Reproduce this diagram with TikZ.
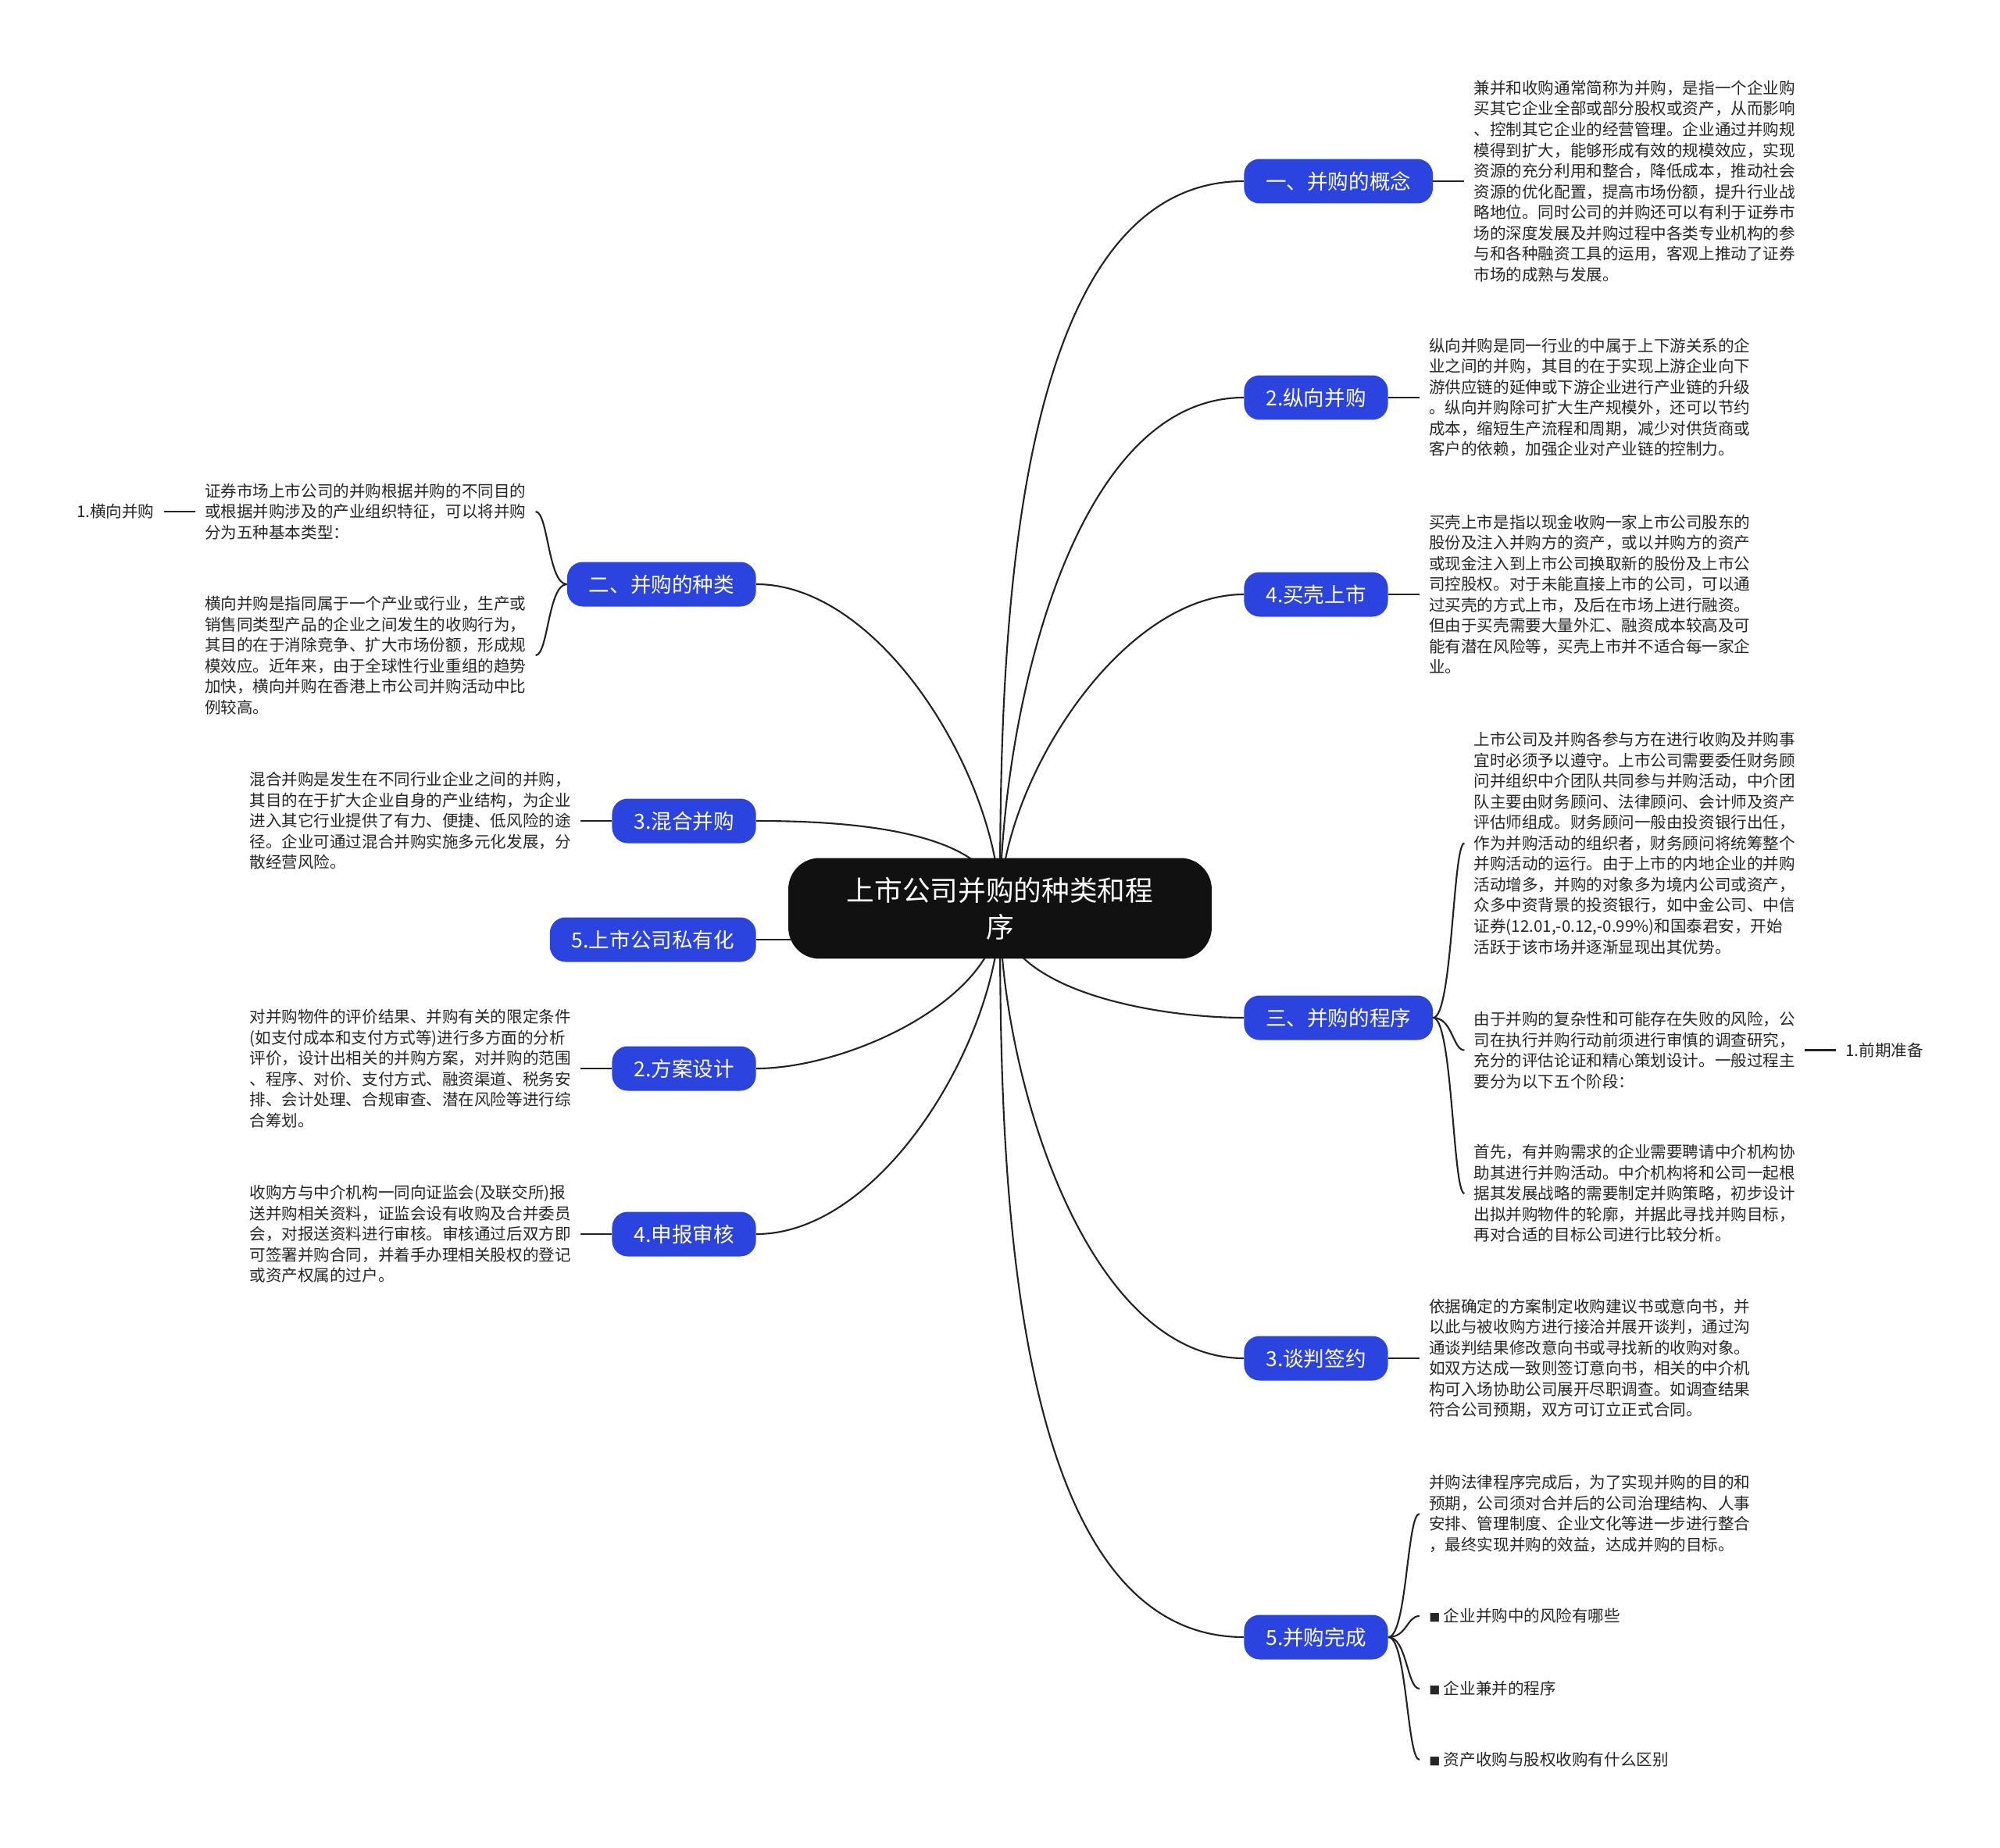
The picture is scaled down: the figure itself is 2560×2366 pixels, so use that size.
\documentclass[tikz,border=0pt]{standalone}
\usepackage{fontspec}
\setmainfont{Noto Sans CJK SC}
\usetikzlibrary{positioning, backgrounds}
\definecolor{rootblack}{HTML}{111111}
\definecolor{branchblue}{HTML}{2B43DF}
\definecolor{linkgray}{HTML}{222222}
\tikzset{
  % central topic
  root/.style={
    rectangle, rounded corners=0.8cm, fill=rootblack, text=white,
    minimum width=10.84cm, minimum height=2.58cm, align=center,
    font=\fontsize{20.3}{26.7}\selectfont
  },
  % main branches
  branch/.style={
    rectangle, rounded corners=0.4cm, fill=branchblue, text=white,
    minimum height=1.14cm, inner xsep=0.56cm,
    font=\fontsize{15.1}{18}\selectfont
  },
  branchR/.style={branch, anchor=west},
  branchL/.style={branch, anchor=east},
  % detail texts
  leaf/.style={
    align=left, inner xsep=0.24cm, inner ysep=0pt, text=black!85,
    font=\fontsize{11.7}{15.1}\selectfont
  },
  % connectors
  link/.style={draw=linkgray, line width=1.2pt},
  curvelink/.style={link, looseness=0.8},
}

\begin{document}
\begin{tikzpicture}[x=0.02cm, y=-0.02cm, node distance=0.8cm]
  \useasboundingbox (0,0) rectangle (2560,2366);

  % central topic
  \node[root] (root) at (1280,1163) {上市公司并购的种类和程\\序};

  % right branches
  \node[branchR] (concept) at (1592,232) {一、并购的概念};
  \node[branchR] (vertical) at (1592,509) {2.纵向并购};
  \node[branchR] (shell) at (1592,761) {4.买壳上市};
  \node[branchR] (procedure) at (1592,1303) {三、并购的程序};
  \node[branchR] (negotiate) at (1592,1739) {3.谈判签约};
  \node[branchR] (complete) at (1592,2096) {5.并购完成};

  % left branches
  \node[branchL] (types) at (968,748) {二、并购的种类};
  \node[branchL] (mixed) at (968,1051) {3.混合并购};
  \node[branchL] (private) at (968,1203) {5.上市公司私有化};
  \node[branchL] (plan) at (968,1368) {2.方案设计};
  \node[branchL] (review) at (968,1580) {4.申报审核};

  % right details
  \node[leaf, right=of concept] (conceptTxt) {兼并和收购通常简称为并购，是指一个企业购\\买其它企业全部或部分股权或资产，从而影响\\、控制其它企业的经营管理。企业通过并购规\\模得到扩大，能够形成有效的规模效应，实现\\资源的充分利用和整合，降低成本，推动社会\\资源的优化配置，提高市场份额，提升行业战\\略地位。同时公司的并购还可以有利于证券市\\场的深度发展及并购过程中各类专业机构的参\\与和各种融资工具的运用，客观上推动了证券\\市场的成熟与发展。};
  \node[leaf, right=of vertical] (verticalTxt) {纵向并购是同一行业的中属于上下游关系的企\\业之间的并购，其目的在于实现上游企业向下\\游供应链的延伸或下游企业进行产业链的升级\\。纵向并购除可扩大生产规模外，还可以节约\\成本，缩短生产流程和周期，减少对供货商或\\客户的依赖，加强企业对产业链的控制力。};
  \node[leaf, right=of shell] (shellTxt) {买壳上市是指以现金收购一家上市公司股东的\\股份及注入并购方的资产，或以并购方的资产\\或现金注入到上市公司换取新的股份及上市公\\司控股权。对于未能直接上市的公司，可以通\\过买壳的方式上市，及后在市场上进行融资。\\但由于买壳需要大量外汇、融资成本较高及可\\能有潜在风险等，买壳上市并不适合每一家企\\业。};
  \node[leaf, right=of procedure, yshift=4.47cm] (procA) {上市公司及并购各参与方在进行收购及并购事\\宜时必须予以遵守。上市公司需要委任财务顾\\问并组织中介团队共同参与并购活动，中介团\\队主要由财务顾问、法律顾问、会计师及资产\\评估师组成。财务顾问一般由投资银行出任，\\作为并购活动的组织者，财务顾问将统筹整个\\并购活动的运行。由于上市的内地企业的并购\\活动增多，并购的对象多为境内公司或资产，\\众多中资背景的投资银行，如中金公司、中信\\证券(12.01,-0.12,-0.99\%)和国泰君安，开始\\活跃于该市场并逐渐显现出其优势。};
  \node[leaf, right=of procedure, yshift=-0.83cm] (procB) {由于并购的复杂性和可能存在失败的风险，公\\司在执行并购行动前须进行审慎的调查研究，\\充分的评估论证和精心策划设计。一般过程主\\要分为以下五个阶段：};
  \node[leaf, right=of procedure, yshift=-4.5cm] (procC) {首先，有并购需求的企业需要聘请中介机构协\\助其进行并购活动。中介机构将和公司一起根\\据其发展战略的需要制定并购策略，初步设计\\出拟并购物件的轮廓，并据此寻找并购目标，\\再对合适的目标公司进行比较分析。};
  \node[leaf, right=of procB] (prep) {1.前期准备};
  \node[leaf, right=of negotiate] (negotiateTxt) {依据确定的方案制定收购建议书或意向书，并\\以此与被收购方进行接洽并展开谈判，通过沟\\通谈判结果修改意向书或寻找新的收购对象。\\如双方达成一致则签订意向书，相关的中介机\\构可入场协助公司展开尽职调查。如调查结果\\符合公司预期，双方可订立正式合同。};
  \node[leaf, right=of complete, yshift=3.16cm] (doneA) {并购法律程序完成后，为了实现并购的目的和\\预期，公司须对合并后的公司治理结构、人事\\安排、管理制度、企业文化等进一步进行整合\\，最终实现并购的效益，达成并购的目标。};
  \node[leaf, right=of complete, yshift=0.54cm] (doneB) {{\fontsize{8}{8}\selectfont ■} 企业并购中的风险有哪些};
  \node[leaf, right=of complete, yshift=-1.32cm] (doneC) {{\fontsize{8}{8}\selectfont ■} 企业兼并的程序};
  \node[leaf, right=of complete, yshift=-3.14cm] (doneD) {{\fontsize{8}{8}\selectfont ■} 资产收购与股权收购有什么区别};

  % left details
  \node[leaf, left=of types, yshift=1.86cm] (typesA) {证券市场上市公司的并购根据并购的不同目的\\或根据并购涉及的产业组织特征，可以将并购\\分为五种基本类型：};
  \node[leaf, left=of types, yshift=-1.82cm] (typesB) {横向并购是指同属于一个产业或行业，生产或\\销售同类型产品的企业之间发生的收购行为，\\其目的在于消除竞争、扩大市场份额，形成规\\模效应。近年来，由于全球性行业重组的趋势\\加快，横向并购在香港上市公司并购活动中比\\例较高。};
  \node[leaf, left=of typesA] (horiz) {1.横向并购};
  \node[leaf, left=of mixed] (mixedTxt) {混合并购是发生在不同行业企业之间的并购，\\其目的在于扩大企业自身的产业结构，为企业\\进入其它行业提供了有力、便捷、低风险的途\\径。企业可通过混合并购实施多元化发展，分\\散经营风险。};
  \node[leaf, left=of plan] (planTxt) {对并购物件的评价结果、并购有关的限定条件\\(如支付成本和支付方式等)进行多方面的分析\\评价，设计出相关的并购方案，对并购的范围\\、程序、对价、支付方式、融资渠道、税务安\\排、会计处理、合规审查、潜在风险等进行综\\合筹划。};
  \node[leaf, left=of review] (reviewTxt) {收购方与中介机构一同向证监会(及联交所)报\\送并购相关资料，证监会设有收购及合并委员\\会，对报送资料进行审核。审核通过后双方即\\可签署并购合同，并着手办理相关股权的登记\\或资产权属的过户。};

  \begin{scope}[on background layer]
    % root to branches
    \draw[curvelink] (root.center) to[out=90,in=180] (concept.west);
    \draw[curvelink] (root.center) to[out=90,in=180] (vertical.west);
    \draw[curvelink] (root.center) to[out=90,in=180] (shell.west);
    \draw[curvelink] (root.center) to[out=-90,in=180] (procedure.west);
    \draw[curvelink] (root.center) to[out=-90,in=180] (negotiate.west);
    \draw[curvelink] (root.center) to[out=-90,in=180] (complete.west);
    \draw[curvelink] (root.center) to[out=90,in=0] (types.east);
    \draw[curvelink] (root.center) to[out=90,in=0] (mixed.east);
    \draw[link] (private.east) -- (private.east -| root.center);
    \draw[curvelink] (root.center) to[out=-90,in=0] (plan.east);
    \draw[curvelink] (root.center) to[out=-90,in=0] (review.east);
  \end{scope}

  % branches to details
  \draw[link] (concept) -- (conceptTxt);
  \draw[link] (vertical) -- (verticalTxt);
  \draw[link] (shell) -- (shellTxt);
  \draw[link] (negotiate) -- (negotiateTxt);
  \draw[link] (mixed) -- (mixedTxt);
  \draw[link] (plan) -- (planTxt);
  \draw[link] (review) -- (reviewTxt);
  \draw[link] (procB) -- (prep);
  \draw[link] (typesA) -- (horiz);

  % braces
  \foreach \kid in {procA, procB, procC}
    \draw[link] (procedure.east) .. controls +(25,0) and +(-15,0) .. (\kid.west);
  \foreach \kid in {doneA, doneB, doneC, doneD}
    \draw[link] (complete.east) .. controls +(24,0) and +(-16,0) .. (\kid.west);
  \foreach \kid in {typesA, typesB}
    \draw[link] (types.west) .. controls +(-24,0) and +(16,0) .. (\kid.east);

\end{tikzpicture}
\end{document}
